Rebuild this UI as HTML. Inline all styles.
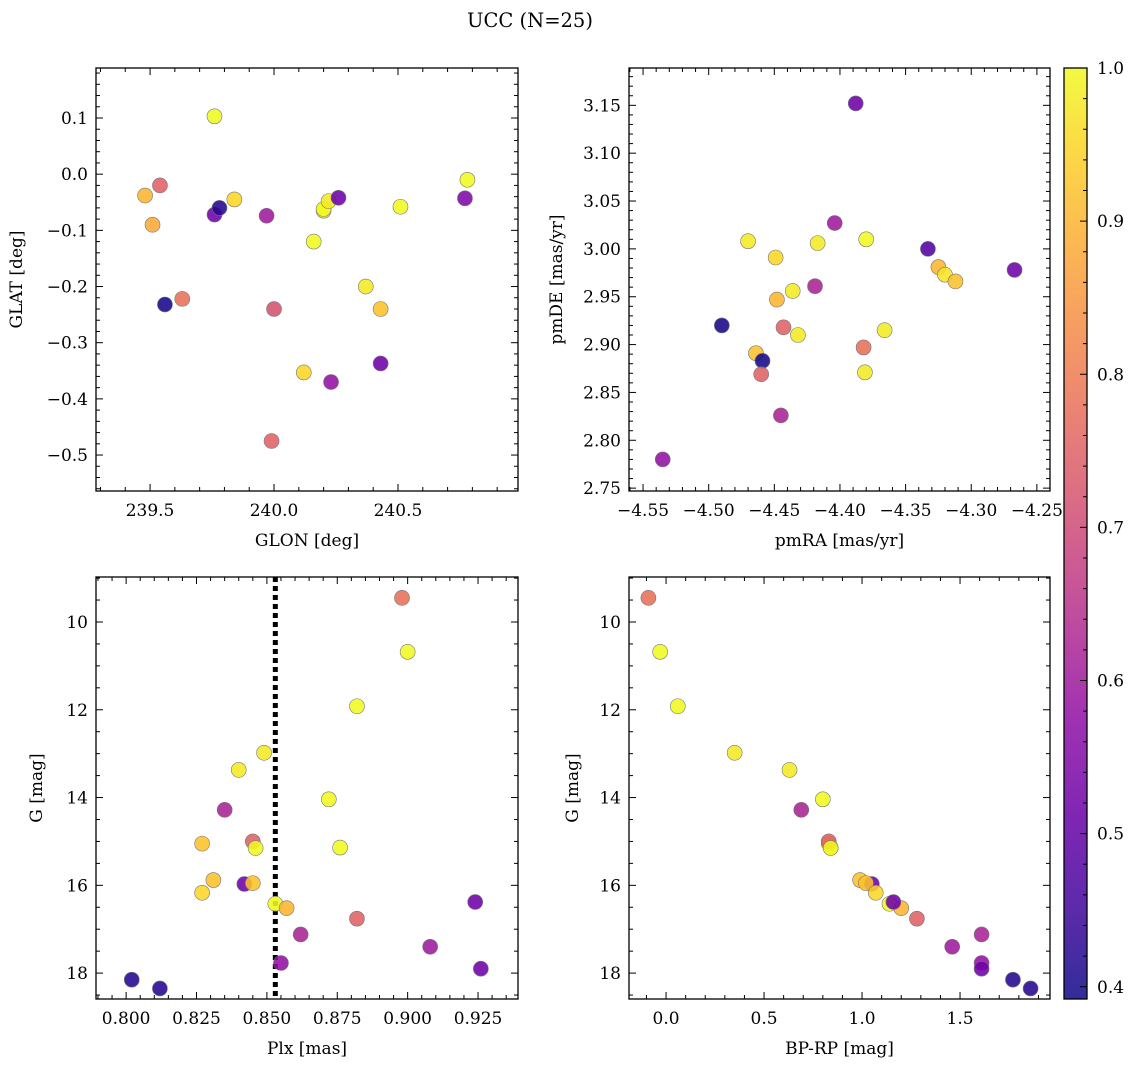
<!DOCTYPE html>
<html><head><meta charset="utf-8">
<style>
html,body{margin:0;padding:0;background:#fff;}
svg{display:block;font-family:"DejaVu Serif","Liberation Serif",serif;}
</style></head>
<body>
<svg id="fig" width="1136" height="1067" viewBox="0 0 1136 1067" xmlns="http://www.w3.org/2000/svg">
<text x="530" y="27" font-size="19.5" text-anchor="middle">UCC (N=25)</text>
</svg>
<script>
// Panel 1: GLON / GLAT
const glon = [239.76,239.48,239.54,239.51,239.56,239.63,239.76,239.78,239.84,239.97,240.0,239.99,240.16,240.2,240.2,240.22,240.26,240.12,240.23,240.37,240.43,240.43,240.51,240.78,240.77];
const glat = [0.103,-0.038,-0.02,-0.09,-0.232,-0.222,-0.072,-0.06,-0.045,-0.074,-0.24,-0.475,-0.12,-0.065,-0.062,-0.048,-0.042,-0.353,-0.37,-0.2,-0.24,-0.337,-0.058,-0.01,-0.043];
const prob1 = [1.0,0.9,0.75,0.88,0.4,0.78,0.52,0.42,0.95,0.6,0.72,0.75,1.0,0.98,1.0,0.98,0.52,0.95,0.58,0.98,0.92,0.52,1.0,1.0,0.55];
// Panel 2: pmRA / pmDE
const pmra = [-4.388,-4.47,-4.449,-4.404,-4.417,-4.38,-4.333,-4.325,-4.32,-4.312,-4.267,-4.419,-4.436,-4.448,-4.49,-4.443,-4.432,-4.366,-4.464,-4.459,-4.382,-4.46,-4.381,-4.445,-4.535];
const pmde = [3.152,3.008,2.991,3.027,3.006,3.010,3.0,2.981,2.973,2.966,2.978,2.961,2.956,2.947,2.92,2.918,2.91,2.915,2.891,2.883,2.897,2.869,2.871,2.826,2.78];
const prob2 = [0.52,0.98,0.95,0.6,0.98,1.0,0.48,0.9,0.97,0.92,0.52,0.62,0.98,0.9,0.4,0.75,0.98,0.98,0.92,0.4,0.78,0.75,0.98,0.62,0.58];
// Panel 3/4: Plx, BP-RP, G
const plx = [0.898,0.900,0.882,0.849,0.840,0.872,0.835,0.876,0.827,0.845,0.846,0.831,0.842,0.845,0.827,0.853,0.857,0.924,0.862,0.882,0.908,0.855,0.926,0.802,0.812];
const bprp = [-0.09,-0.03,0.06,0.35,0.63,0.8,0.69,0.84,0.83,0.83,0.84,0.99,1.05,1.02,1.07,1.14,1.2,1.16,1.61,1.28,1.46,1.61,1.61,1.77,1.86];
const gmag = [9.45,10.68,11.92,12.98,13.37,14.04,14.28,15.14,15.05,15.0,15.15,15.88,15.97,15.95,16.17,16.42,16.52,16.38,17.12,16.76,17.4,17.77,17.9,18.15,18.35];
const prob3 = [0.78,1.0,1.0,0.98,0.98,1.0,0.62,1.0,0.92,0.75,1.0,0.92,0.52,0.92,0.95,1.0,0.9,0.52,0.62,0.75,0.6,0.58,0.52,0.42,0.42];
const plxLine = [0.853];
const cbTicks = [0.4,0.5,0.6,0.7,0.8,0.9,1.0];

const NS="http://www.w3.org/2000/svg";
const svg=document.getElementById('fig');
const FS=17;
function el(tag,attrs,parent){const e=document.createElementNS(NS,tag);for(const k in attrs)e.setAttribute(k,attrs[k]);(parent||svg).appendChild(e);return e;}
const stops=[[0,[13,8,135]],[0.1,[65,4,157]],[0.2,[106,0,168]],[0.3,[143,13,164]],[0.4,[177,42,144]],[0.5,[204,71,120]],[0.6,[225,100,98]],[0.7,[242,132,75]],[0.8,[252,166,54]],[0.9,[252,206,37]],[1,[240,249,33]]];
function plasma(t){t=Math.max(0,Math.min(1,t));for(let i=1;i<stops.length;i++){if(t<=stops[i][0]){const a=stops[i-1],b=stops[i];const f=(t-a[0])/(b[0]-a[0]);const c=a[1].map((v,j)=>Math.round(v+(b[1][j]-v)*f));return `rgb(${c[0]},${c[1]},${c[2]})`;}}return 'rgb(240,249,33)';}
const VMIN=0.392,VMAX=1.0;
function cmap(v){return plasma((v-VMIN)/(VMAX-VMIN));}
function fmtNum(v,d){const s=Math.abs(v).toFixed(d);return (v<-1e-9?'\u2212':'')+s;}

function panel(o){
  const g=el('g',{});
  
  
  const sx=v=>o.x0+(v-o.xmin)/(o.xmax-o.xmin)*(o.x1-o.x0);
  const sy=o.yinv?(v=>o.y0+(v-o.ymin)/(o.ymax-o.ymin)*(o.y1-o.y0)):(v=>o.y1-(v-o.ymin)/(o.ymax-o.ymin)*(o.y1-o.y0));
  const tg=el('g',{stroke:'#000','stroke-width':1},g);
  
  
  const eps=1e-9;
  for(let v=Math.ceil(o.xmin/o.xminor-eps)*o.xminor;v<=o.xmax+eps;v+=o.xminor){
    const isMaj=Math.abs(v/o.xmajor-Math.round(v/o.xmajor))<1e-6;const L=isMaj?7:4;const x=sx(v);
    el('line',{x1:x,x2:x,y1:o.y1,y2:o.y1-L},tg);el('line',{x1:x,x2:x,y1:o.y0,y2:o.y0+L},tg);
    if(isMaj){const t=el('text',{x:x,y:o.y1+25,'font-size':FS,'text-anchor':'middle',stroke:'none'},g);t.textContent=fmtNum(Math.round(v/o.xmajor)*o.xmajor,o.xdec);
      }
  }
  for(let v=Math.ceil(o.ymin/o.yminor-eps)*o.yminor;v<=o.ymax+eps;v+=o.yminor){
    const isMaj=Math.abs(v/o.ymajor-Math.round(v/o.ymajor))<1e-6;const L=isMaj?7:4;const y=sy(v);
    el('line',{x1:o.x0,x2:o.x0+L,y1:y,y2:y},tg);el('line',{x1:o.x1,x2:o.x1-L,y1:y,y2:y},tg);
    if(isMaj){const t=el('text',{x:o.x0-8,y:y+6,'font-size':FS,'text-anchor':'end'},g);t.textContent=fmtNum(Math.round(v/o.ymajor)*o.ymajor,o.ydec);
      }
  }
  if(o.vline){const x=sx(o.vline[0]);const l=el('line',{x1:x,x2:x,y1:o.y0,y2:o.y1,stroke:'#000','stroke-width':5,'stroke-dasharray':'5,4'},g);
    }
  for(let i=0;i<o.xs.length;i++){
    const c=el('circle',{cx:sx(o.xs[i]),cy:sy(o.ys[i]),r:7.5,fill:cmap(o.cs[i]),'fill-opacity':0.88,stroke:'#777','stroke-width':0.6},g);
    
    
  }
  const fr=el('rect',{x:o.x0,y:o.y0,width:o.x1-o.x0,height:o.y1-o.y0,fill:'none',stroke:'#000','stroke-width':1.3},g);
  
  const xl=el('text',{x:(o.x0+o.x1)/2,y:o.y1+55,'font-size':FS,'text-anchor':'middle'},g);xl.textContent=o.xlabel;
  
  const yx=o.ylabx,yy=(o.y0+o.y1)/2;
  const yl=el('text',{x:yx,y:yy,'font-size':FS,'text-anchor':'middle',transform:`rotate(-90 ${yx} ${yy})`},g);yl.textContent=o.ylabel;
  
}
panel({name:'glon-glat-panel',x0:96,x1:518,y0:68,y1:491,xmin:239.282,xmax:240.984,ymin:-0.564,ymax:0.189,xmajor:0.5,xminor:0.1,ymajor:0.1,yminor:0.02,xdec:1,ydec:1,xs:glon,ys:glat,cs:prob1,xlabel:'GLON [deg]',ylabel:'GLAT [deg]',ylabx:22});
panel({name:'pm-panel',x0:629,x1:1050,y0:68,y1:491,xmin:-4.5607,xmax:-4.240,ymin:2.747,ymax:3.189,xmajor:0.05,xminor:0.01,ymajor:0.05,yminor:0.01,xdec:2,ydec:2,xs:pmra,ys:pmde,cs:prob2,xlabel:'pmRA [mas/yr]',ylabel:'pmDE [mas/yr]',ylabx:562});
panel({name:'plx-g-panel',x0:96,x1:518,y0:577,y1:999,xmin:0.7893,xmax:0.9392,ymin:8.975,ymax:18.59,yinv:true,xmajor:0.025,xminor:0.005,ymajor:2,yminor:0.5,xdec:3,ydec:0,xs:plx,ys:gmag,cs:prob3,xlabel:'Plx [mas]',ylabel:'G [mag]',ylabx:42,vline:plxLine});
panel({name:'cmd-panel',x0:629,x1:1050,y0:577,y1:999,xmin:-0.189,xmax:1.959,ymin:8.975,ymax:18.59,yinv:true,xmajor:0.5,xminor:0.1,ymajor:2,yminor:0.5,xdec:1,ydec:0,xs:bprp,ys:gmag,cs:prob3,xlabel:'BP-RP [mag]',ylabel:'G [mag]',ylabx:578});

// colorbar
(function(){
  const x0=1064,x1=1087,y0=68,y1=999;
  const cb=el('g',{});
  
  
  const defs=el('defs',{},cb);
  const lg=el('linearGradient',{id:'cbg',x1:0,y1:1,x2:0,y2:0},defs);
  for(let i=0;i<=20;i++){el('stop',{offset:i/20,'stop-color':plasma(i/20),'stop-opacity':0.85},lg);}
  el('rect',{x:x0,y:y0,width:x1-x0,height:y1-y0,fill:'url(#cbg)'},cb);
  el('rect',{x:x0,y:y0,width:x1-x0,height:y1-y0,fill:'none',stroke:'#000','stroke-width':1.3},cb);
  const sy=v=>y1-(v-VMIN)/(VMAX-VMIN)*(y1-y0);
  for(let v=0.4;v<=1.0001;v+=0.02){
    const maj=Math.abs(v*10-Math.round(v*10))<1e-6;const y=sy(v);
    el('line',{x1:x1,x2:x1-(maj?7:4),y1:y,y2:y,stroke:'#000','stroke-width':1},cb);
  }
  cbTicks.forEach(v=>{const t=el('text',{x:x1+10,y:sy(v)+6,'font-size':FS},cb);t.textContent=v.toFixed(1);
    });
})();
</script>
</body></html>
